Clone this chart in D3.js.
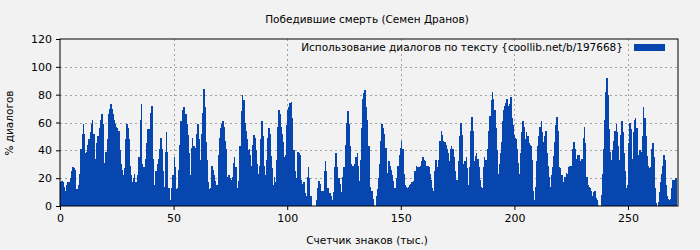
<!doctype html>
<html lang="ru">
<head>
<meta charset="utf-8">
<title>Победившие смерть (Семен Дранов)</title>
<script src="https://cdn.jsdelivr.net/npm/d3@7"></script>
<style>
  body { margin: 0; background: #f2f2f2; }
  svg { display: block; font-family: "DejaVu Sans", sans-serif; }
</style>
</head>
<body>
<svg id="chart" width="700" height="250"></svg>
<script>
// share of dialogue per half-thousand characters in pieces
var part1 = [17,18,17,14,11,15,17,17,16,20,25,28,27,26,12,10,15,23,41,52,59,52,38,39,44,48,53,59,62,52,
  34,34,45,50,56,62,66,59,31,31,39,48,66,70,73,70,66,62,59,57,56,54,40,30,26,22,27,48,59,56,
  48,29,22,17,20,23,17,6,22,35,62,73,30,28,21,34,45,55,55];
var part2 = [67,72,34,15,6,25,30,34,41,49,41,25,14,39,53,39,13,0,4,13,22,35,28,12,13,26,44,61,69,71,
  71,66,59,51,38,22,42,49,43,26,42,52,59,48,33,52,67,84,71,46,33,17,12,13,29,26,22,18,15,15,
  37,49,56,59,61,57,47,41,21,22,20,19,21,31,35,28,13,7,18];
var part3 = [43,68,80,76,60,54,48,40,41,37,29,44,51,49,40,30,23,29,48,61,50,29,22,33,49,56,52,36,27,15,
  21,17,33,57,69,66,57,52,46,35,37,58,69,71,74,75,63,40,25,8,20,39,38,37,19,16,17,9,7,21,
  28,20,7,0,0,0,0,4,13,18,16,11,11,11,25,32,25,13,8];
var part4 = [9,7,4,10,28,38,28,16,20,16,10,21,28,27,44,60,68,59,43,30,29,25,30,35,38,29,18,33,56,77,
  81,83,71,62,43,14,8,11,5,1,0,7,12,20,30,47,59,56,52,42,14,24,32,29,26,22,18,13,11,20,
  29,37,42,47,41,23,15,14,13,14,15,16,17,11,18,25,29,28,28];
var part5 = [28,29,32,35,33,32,29,29,28,23,19,13,11,25,33,28,19,33,47,54,51,47,46,44,41,38,32,41,43,41,
  35,25,15,19,32,50,60,51,28,30,32,35,27,15,28,54,64,54,32,36,38,34,28,19,14,13,28,35,33,29,
  41,54,65,76,82,77,69,56,40,23,30,38,46,61,69,72,74,77,72];
var part6 = [73,78,63,58,51,49,48,41,31,23,38,53,61,57,48,53,50,45,44,43,33,11,4,14,32,43,50,57,61,53,
  46,50,54,38,29,21,14,22,28,36,46,58,64,54,28,27,22,14,17,21,24,23,28,29,17,29,41,46,41,34,
  37,37,31,32,34,49,57,45,21,15,14,13,11,7,10,11,6,4,1];
var part7 = [0,0,8,23,41,62,82,92,80,55,39,33,40,47,54,59,53,43,33,51,61,53,38,25,13,15,45,60,55,34,
  53,62,63,56,37,34,40,39,50,71,63,50,36,29,27,28,41,45,35,13,2,0,3,10,17,23,29,37,33,15,
  7,5,4,5,13,19,19,20,20];

var values = [].concat(part1, part2, part3, part4, part5, part6, part7);
var step = 0.5; // thousand characters per bar
var xTicks = [0, 50, 100, 150, 200, 250];
var yTicks = [0, 20, 40, 60, 80, 100, 120];

var title = "Победившие смерть (Семен Дранов)";
var legendText = "Использование диалогов по тексту {coollib.net/b/197668}";
var xTitle = "Счетчик знаков (тыс.)";
var yTitle = "% диалогов";

var margin = {top: 39, right: 22, bottom: 44, left: 60};
var width = 700, height = 250;
var fs = 10.5;
var svg = d3.select("#chart");

var x = d3.scaleLinear().domain([0, 272]).range([margin.left, width - margin.right]);
var y = d3.scaleLinear().domain([0, 120]).range([height - margin.bottom, margin.top]);

// grid
svg.append("g").selectAll("line").data(yTicks.slice(1, -1)).join("line")
  .attr("x1", x(0)).attr("x2", x(272))
  .attr("y1", d => Math.round(y(d)) + 0.5).attr("y2", d => Math.round(y(d)) + 0.5)
  .attr("stroke", "#a0a0a0").attr("stroke-dasharray", "2,3");
svg.append("g").selectAll("line").data(xTicks.slice(1)).join("line")
  .attr("x1", d => Math.round(x(d)) + 0.5).attr("x2", d => Math.round(x(d)) + 0.5)
  .attr("y1", y(0)).attr("y2", y(120))
  .attr("stroke", "#a0a0a0").attr("stroke-dasharray", "2,3");

// bars
svg.append("g").attr("shape-rendering", "crispEdges")
  .selectAll("rect").data(values).join("rect")
  .attr("x", (d, i) => x(i * step))
  .attr("width", x(step) - x(0) + 0.5)
  .attr("y", d => y(d))
  .attr("height", d => y(0) - y(d))
  .attr("fill", "#0646ae");

// axes
var xAxis = d3.axisBottom(x).tickValues(xTicks).tickSize(4).tickPadding(4);
var yAxis = d3.axisLeft(y).tickValues(yTicks).tickSize(4).tickPadding(4);
svg.append("g").attr("transform", `translate(0,${y(0)})`).call(xAxis)
  .call(g => g.select(".domain").remove());
svg.append("g").attr("transform", `translate(${x(0)},0)`).call(yAxis)
  .call(g => g.select(".domain").remove());
svg.selectAll(".tick text").attr("font-size", fs + 0.5).attr("fill", "#000")
  .attr("font-family", "DejaVu Sans");

// frame
svg.append("rect")
  .attr("x", x(0)).attr("y", y(120))
  .attr("width", x(272) - x(0)).attr("height", y(0) - y(120))
  .attr("fill", "none").attr("stroke", "#000");

// legend
svg.append("text").attr("x", 623).attr("y", 51).attr("text-anchor", "end")
  .attr("font-size", fs).text(legendText);
svg.append("rect").attr("x", 634).attr("y", 44).attr("width", 31).attr("height", 7)
  .attr("fill", "#0646ae");

// titles
svg.append("text").attr("x", 367).attr("y", 23).attr("text-anchor", "middle")
  .attr("font-size", fs).text(title);
svg.append("text").attr("x", 367).attr("y", 244).attr("text-anchor", "middle")
  .attr("font-size", fs).text(xTitle);
svg.append("text").attr("transform", "translate(13,123) rotate(-90)")
  .attr("text-anchor", "middle").attr("font-size", fs).text(yTitle);
</script>
</body>
</html>
